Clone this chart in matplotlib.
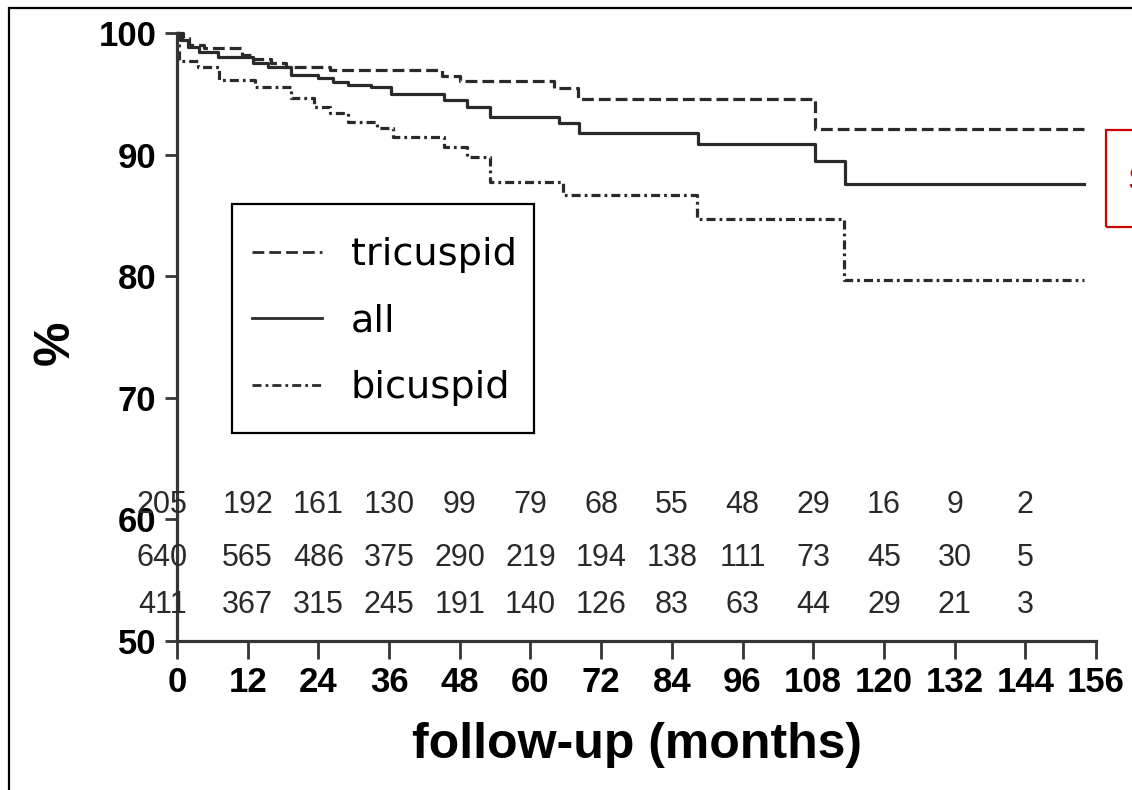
import matplotlib
matplotlib.use("Agg")
import matplotlib.pyplot as plt
from matplotlib.patches import Rectangle

# ---- data ----
end_time = 154

tri_t = [0, 1.0, 2.0, 4.5, 11.0, 12.5, 16.0, 18.5, 26.0, 45.0, 48.0, 64.0, 68.0, 108.3]
tri_s = [100, 99.6, 99.0, 98.75, 98.2, 97.9, 97.5, 97.2, 96.95, 96.5, 96.05, 95.45, 94.6, 92.1]

all_t = [0, 0.5, 1.8, 3.7, 7.0, 12.9, 15.5, 19.4, 23.9, 26.5, 29.1, 33.0, 36.3, 45.4,
         49.3, 53.2, 64.9, 68.2, 88.4, 108.3, 113.4]
all_s = [100, 99.42, 98.88, 98.47, 98.05, 97.5, 97.23, 96.55, 96.27, 96.0, 95.72, 95.53,
         94.96, 94.5, 93.89, 93.12, 92.57, 91.8, 90.87, 89.5, 87.58]

bi_t = [0, 0.3, 3.5, 7.2, 13.2, 19.4, 23.3, 26.0, 29.1, 34.0, 36.6, 45.4, 49.3, 53.2,
        65.6, 88.2, 113.2]
bi_s = [100, 97.7, 97.2, 96.13, 95.53, 94.63, 93.94, 93.4, 92.71, 92.16, 91.47, 90.65,
        89.83, 87.77, 86.68, 84.68, 79.69]

x_ticks = [0, 12, 24, 36, 48, 60, 72, 84, 96, 108, 120, 132, 144, 156]
y_ticks = [50, 60, 70, 80, 90, 100]

risk_times = [0, 12, 24, 36, 48, 60, 72, 84, 96, 108, 120, 132, 144]
risk_row1 = [205, 192, 161, 130, 99, 79, 68, 55, 48, 29, 16, 9, 2]
risk_row2 = [640, 565, 486, 375, 290, 219, 194, 138, 111, 73, 45, 30, 5]
risk_row3 = [411, 367, 315, 245, 191, 140, 126, 83, 63, 44, 29, 21, 3]
risk_levels = [61.2, 56.8, 52.95]

labels = ["tricuspid", "all", "bicuspid"]

# ---- figure ----
plt.rcParams['font.family'] = ['Liberation Sans', 'DejaVu Sans']
plt.rcParams['lines.scale_dashes'] = False

W, H = 1132, 790
fig = plt.figure(figsize=(W / 100, H / 100), dpi=100)
fig.patch.set_facecolor("white")

# outer frame (extends beyond right/bottom edges)
fig.patches.append(Rectangle((9 / W, -0.05), 1.2, 1.05 - 8 / H,
                             transform=fig.transFigure, fill=False,
                             edgecolor="black", linewidth=1.6))

ax = fig.add_axes([177 / W, (H - 641) / H, (1096 - 177) / W, (641 - 33) / H])
ax.set_xlim(0, 156)
ax.set_ylim(50, 100)

col = "#2a2a2a"
lw = 2.3


def ext(t, s):
    return list(t) + [end_time], list(s) + [s[-1]]


tt, ts = ext(tri_t, tri_s)
at, as_ = ext(all_t, all_s)
bt, bs = ext(bi_t, bi_s)

l1, = ax.step(tt, ts, where="post", color=col, lw=lw, dashes=(8.5, 3.6), clip_on=False)
l2, = ax.step(at, as_, where="post", color=col, lw=lw, clip_on=False)
l3, = ax.step(bt, bs, where="post", color=col, lw=lw, dashes=(6.5, 2.9, 2.0, 2.9), clip_on=False)

for side in ["top", "right"]:
    ax.spines[side].set_visible(False)
for side in ["left", "bottom"]:
    ax.spines[side].set_linewidth(2.3)
    ax.spines[side].set_color("#353535")

ax.set_xticks(x_ticks)
ax.set_yticks(y_ticks)
ax.tick_params(axis="x", direction="out", length=13, width=2.0, color="#353535", pad=5)
ax.tick_params(axis="y", direction="out", length=9, width=2.0, color="#353535", pad=6)
for lab in ax.get_xticklabels() + ax.get_yticklabels():
    lab.set_fontweight("bold")
    lab.set_fontsize(25)

ax.set_xlabel("follow-up (months)", fontsize=36, fontweight="bold")
ax.xaxis.set_label_coords(0.5, (641 - 722) / 608)
ax.set_ylabel("%", fontsize=36, fontweight="bold")
ax.yaxis.set_label_coords((56 - 177) / 919, (641 - 343) / 608)
ax.yaxis.label.set_va("center")

# numbers at risk
for row, yv in zip([risk_row1, risk_row2, risk_row3], risk_levels):
    for i, (t, n) in enumerate(zip(risk_times, row)):
        xpos = t if i > 0 else -2.5
        ax.text(xpos, yv, str(n), ha="center", va="center", fontsize=22,
                color="#2a2a2a", clip_on=False)

# legend: frameless entries + separate box
leg = ax.legend([l1, l2, l3], labels, loc="upper left",
                bbox_to_anchor=((252 - 177) / (1096 - 177), (641 - 237) / (641 - 33)),
                borderaxespad=0.0, prop={'family': 'DejaVu Sans', 'size': 27.5},
                frameon=False, handlelength=1.84, handletextpad=0.74,
                borderpad=0.0, labelspacing=0.8)
for ln in leg.get_lines():
    ln.set_linewidth(2.0)
fig.patches.append(Rectangle((232 / W, (H - 433) / H), (534 - 232) / W, (433 - 204) / H,
                             transform=fig.transFigure, fill=False,
                             edgecolor="black", linewidth=1.6, zorder=5))

# red annotation box (partly outside the image)
fig.patches.append(Rectangle((1106 / W, (H - 227) / H), 0.1, 97 / H,
                             transform=fig.transFigure, fill=False,
                             edgecolor="#cc0000", linewidth=1.6))
fig.text(1127 / W, (H - 181) / H, "S", color="#cc0000", fontsize=24,
         ha="left", va="center")

fig.savefig("out.png", dpi=100)
